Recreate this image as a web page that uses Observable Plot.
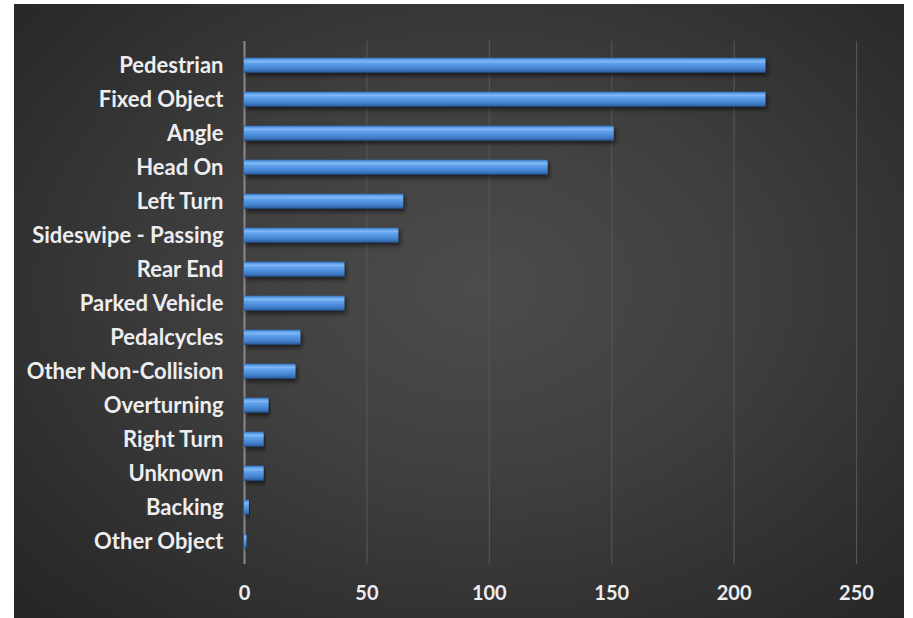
<!DOCTYPE html>
<html>
<head>
<meta charset="utf-8">
<script src="https://cdn.jsdelivr.net/npm/d3@7"></script>
<script src="https://cdn.jsdelivr.net/npm/@observablehq/plot@0.6"></script>
<style>
  html, body { margin: 0; padding: 0; background: #ffffff; }
  #chart { position: absolute; left: 14px; top: 4px; width: 890px; height: 614px; }
  #chart svg { background: radial-gradient(ellipse 75% 80% at 52% 46%, #4c4c4c 0%, #3f3f3f 40%, #2c2c2c 80%, #242424 100%); }
</style>
</head>
<body>
<div id="chart"></div>
<script>
const categories = ["Pedestrian", "Fixed Object", "Angle", "Head On", "Left Turn", "Sideswipe - Passing", "Rear End", "Parked Vehicle", "Pedalcycles", "Other Non-Collision", "Overturning", "Right Turn", "Unknown", "Backing", "Other Object"];
const counts = [213, 213, 151, 124, 65, 63, 41, 41, 23, 21, 10, 8, 8, 2, 1];
const xTicks = [0, 50, 100, 150, 200, 250];

const data = categories.map((c, i) => ({category: c, value: counts[i]}));

const font = "Lato, 'Open Sans', sans-serif";

const svg = Plot.plot({
  width: 890,
  height: 614,
  marginLeft: 230,
  marginRight: 48,
  marginTop: 37,
  marginBottom: 54,
  style: {fontFamily: font, fontSize: "20px", fontWeight: "bold", color: "#ededf0", overflow: "visible"},
  x: {domain: [0, 250], ticks: xTicks, tickSize: 0, tickPadding: 21, grid: false, label: null, tickFormat: d => String(d)},
  y: {domain: categories, padding: 0, tickSize: 0, tickPadding: 21, label: null},
  marks: [
    Plot.ruleX(xTicks.slice(1), {stroke: "#555555", strokeWidth: 1.2}),
    Plot.ruleX([0], {stroke: "#8a8a8a", strokeWidth: 2}),
    Plot.barX(data, {
      y: "category", x: "value",
      insetTop: 9.6, insetBottom: 9.2,
      fill: "url(#barGrad)",
      filter: d => d.value > 0
    })
  ]
});

const defs = d3.select(svg).insert("defs", ":first-child");
const g = defs.append("linearGradient").attr("id", "barGrad").attr("x1", 0).attr("y1", 0).attr("x2", 0).attr("y2", 1);
[["0%", "#2d62a4"], ["10%", "#5699e4"], ["25%", "#80b8f4"], ["40%", "#5e9eea"], ["70%", "#4686d4"], ["88%", "#376fb8"], ["100%", "#1f4579"]]
  .forEach(([o, c]) => g.append("stop").attr("offset", o).attr("stop-color", c));
const f = defs.append("filter").attr("id", "barShadow").attr("x", "-5%").attr("y", "-40%").attr("width", "115%").attr("height", "200%");
f.append("feDropShadow").attr("dx", 2).attr("dy", 3).attr("stdDeviation", 2).attr("flood-color", "#000").attr("flood-opacity", 0.55);
d3.select(svg).selectAll("g[aria-label='bar'] rect").attr("filter", "url(#barShadow)");
d3.select(svg).selectAll("g[aria-label='y-axis tick label'], g[aria-label='y-axis']").attr("font-size", "22px").style("font-size", "22px");

document.getElementById("chart").appendChild(svg);
</script>
</body>
</html>
